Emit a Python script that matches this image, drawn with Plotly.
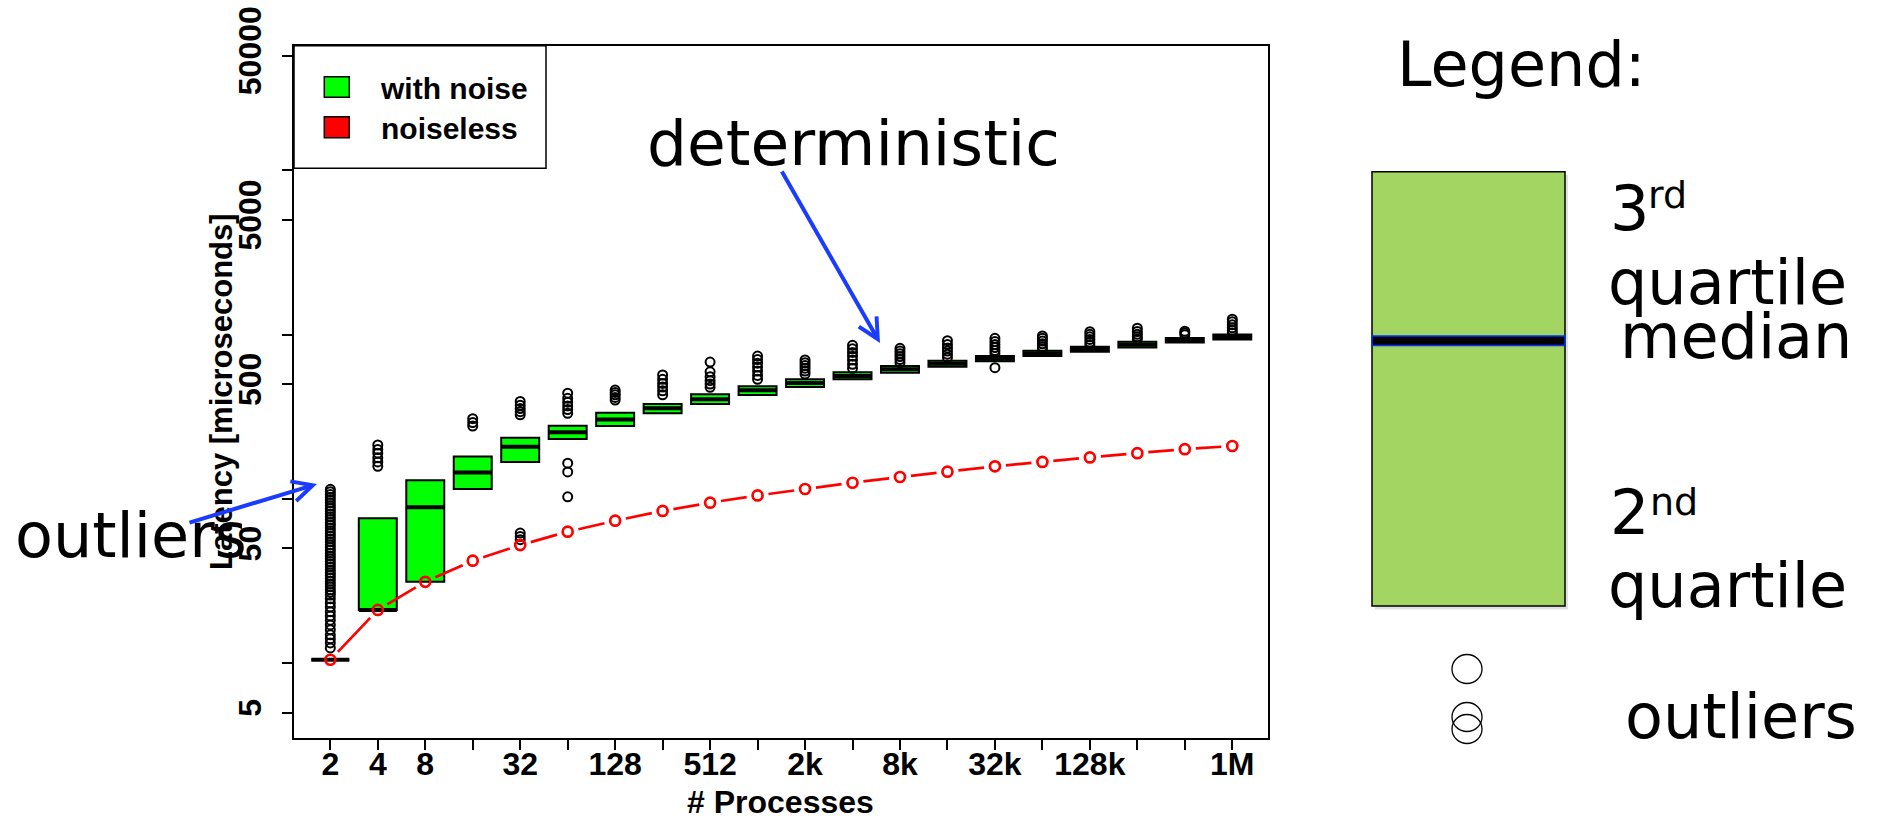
import numpy as np
import plotly.graph_objects as go

W, H = 1878, 821

# ---------------- data ----------------
procs = ["2", "4", "8", "16", "32", "64", "128", "256", "512", "1k",
         "2k", "4k", "8k", "16k", "32k", "64k", "128k", "256k", "512k", "1M"]
tick_labels = ["2", "4", "8", "", "32", "", "128", "", "512", "",
               "2k", "", "8k", "", "32k", "", "128k", "", "", "1M"]

q1 = [10.5, 21.1, 31.3, 115, 168, 232, 278, 332, 378, 429,
      480, 535, 587, 638, 688, 741, 787, 834, 896, 933]
median = [10.5, 21.1, 88.9, 145, 208, 255, 305, 356, 405, 458,
          508, 560, 615, 665, 714, 769, 818, 869, 924, 968]
q3 = [10.5, 76.2, 130, 181, 236, 279, 335, 378, 434, 486,
      535, 590, 644, 694, 741, 798, 845, 904, 953, 1003]

noiseless = [10.5, 21.1, 31.3, 42.1, 52.4, 63.2, 73.7, 84.5, 94.9, 105,
             115, 125.5, 136, 146.5, 158, 168, 179, 190, 201, 210]

outliers = [
    [12.4, 13.3, 14.1, 14.9, 16.0, 17.1, 18.3, 19.4, 20.6, 22.0, 23.3, 24.7,
     26, 27, 28, 29.2, 30.4, 31.6, 32.9, 34.2, 35.6, 37, 38.5, 40, 41.6, 43.3,
     45, 46.8, 48.7, 50.6, 52.7, 54.8, 57, 59.3, 61.6, 64, 66.6, 69.3, 72, 75,
     78, 81, 84.3, 87.6, 91, 94.7, 98.5, 102.4, 106.5, 110.7, 114.5],
    [158, 168, 178, 190, 200, 213],
    [],
    [278, 292, 308],
    [56.5, 59, 62, 325, 340, 355, 372, 392],
    [103, 146, 165, 332, 350, 368, 388, 410, 440],
    [400, 415, 430, 445, 460],
    [430, 455, 480, 505, 535, 568],
    [478, 500, 525, 555, 594, 681],
    [535, 565, 600, 635, 670, 705, 741],
    [576, 600, 625, 650, 675, 701],
    [624, 660, 700, 740, 780, 820, 861],
    [675, 705, 735, 765, 795, 826],
    [727, 760, 795, 830, 870, 919],
    [629, 769, 800, 835, 870, 910, 950],
    [815, 845, 880, 915, 950, 982],
    [865, 900, 935, 970, 1005, 1042],
    [938, 970, 1005, 1045, 1094],
    [1000, 1023, 1050],
    [1023, 1060, 1100, 1150, 1200, 1242],
]

pos = list(range(1, len(procs) + 1))

# ---------------- layout geometry ----------------
xd = [294 / W, 1267.7 / W]
yd = [1 - 738.3 / H, 1 - 45.7 / H]
xr = [0.235, 20.746]
yr = [0.5432, 4.7587]
sx = (xd[1] - xd[0]) * W / (xr[1] - xr[0])   # px per category
sy = (yd[1] - yd[0]) * H / (yr[1] - yr[0])   # px per decade


def px(x):
    return x / W


def py(y):
    return 1 - y / H


fig = go.Figure()

# boxes
fig.add_trace(go.Box(
    x=pos, q1=q1, median=median, q3=q3, lowerfence=q1, upperfence=q3,
    width=0.8, whiskerwidth=0, boxpoints=False,
    fillcolor="#00FF00", line=dict(color="black", width=2),
    showlegend=False, hoverinfo="skip"))

# thick medians
mx, my = [], []
for p, m in zip(pos, median):
    mx += [p - 0.4, p + 0.4, None]
    my += [m, m, None]
fig.add_trace(go.Scatter(x=mx, y=my, mode="lines",
                         line=dict(color="black", width=4),
                         showlegend=False, hoverinfo="skip"))

# outliers
ox, oy = [], []
for p, vals in zip(pos, outliers):
    ox += [p] * len(vals)
    oy += vals
fig.add_trace(go.Scatter(x=ox, y=oy, mode="markers",
                         marker=dict(symbol="circle-open", size=9,
                                     color="black", line=dict(width=2)),
                         showlegend=False, hoverinfo="skip"))

# noiseless line (R type="b": gaps around the points)
gap = 11.0
lx, ly = [], []
for i in range(len(noiseless) - 1):
    X0, Y0 = pos[i] * sx, np.log10(noiseless[i]) * sy
    X1, Y1 = pos[i + 1] * sx, np.log10(noiseless[i + 1]) * sy
    d = np.hypot(X1 - X0, Y1 - Y0)
    if d > 2 * gap:
        ux, uy = (X1 - X0) / d, (Y1 - Y0) / d
        lx += [(X0 + ux * gap) / sx, (X1 - ux * gap) / sx, None]
        ly += [10 ** ((Y0 + uy * gap) / sy), 10 ** ((Y1 - uy * gap) / sy), None]
fig.add_trace(go.Scatter(x=lx, y=ly, mode="lines",
                         line=dict(color="#FF0000", width=2.7),
                         showlegend=False, hoverinfo="skip"))
fig.add_trace(go.Scatter(x=pos, y=noiseless, mode="markers",
                         marker=dict(symbol="circle-open", size=10,
                                     color="#FF0000", line=dict(width=2.7)),
                         showlegend=False, hoverinfo="skip"))

axis_font = dict(family="Liberation Sans, Arial, sans-serif", size=32,
                 color="black", weight="bold")

fig.update_layout(
    template="none",
    width=W, height=H, autosize=False,
    margin=dict(l=0, r=0, t=0, b=0, pad=0),
    paper_bgcolor="white", plot_bgcolor="white",
    showlegend=False,
    xaxis=dict(domain=xd, range=xr, tickmode="array", tickvals=pos,
               ticktext=tick_labels, ticks="outside", ticklen=10, tickwidth=2,
               tickcolor="black", showline=True, linewidth=2, linecolor="black",
               mirror=True, showgrid=False, zeroline=False, tickfont=axis_font,
               automargin=False, ticklabelstandoff=-14),
    yaxis=dict(domain=yd, type="log", range=yr, tickmode="array",
               tickvals=[5, 10, 50, 100, 500, 1000, 5000, 10000, 50000],
               ticktext=["5", "", "50", "", "500", "", "5000", "", "50000"],
               tickangle=-90, ticks="outside", ticklen=10, tickwidth=2,
               tickcolor="black", showline=True, linewidth=2, linecolor="black",
               mirror=True, showgrid=False, zeroline=False, tickfont=axis_font,
               ticklabelstandoff=8, automargin=False),
)

shapes = []
# inner legend
shapes.append(dict(type="rect", xref="paper", yref="paper",
                   x0=px(294), x1=px(546), y0=py(168.3), y1=py(45.7),
                   line=dict(color="black", width=1.5)))
shapes.append(dict(type="rect", xref="paper", yref="paper",
                   x0=px(324.3), x1=px(349.3), y0=py(97.3), y1=py(76.7),
                   fillcolor="#00FF00", line=dict(color="black", width=1.5)))
shapes.append(dict(type="rect", xref="paper", yref="paper",
                   x0=px(324.3), x1=px(349.3), y0=py(137.7), y1=py(116.7),
                   fillcolor="#FF0000", line=dict(color="black", width=1.5)))
# right-hand explanatory legend
shapes.append(dict(type="rect", xref="paper", yref="paper",
                   x0=px(1375), x1=px(1568), y0=py(609.5), y1=py(175),
                   fillcolor="rgba(0,0,0,0.12)", line=dict(width=0)))
shapes.append(dict(type="rect", xref="paper", yref="paper",
                   x0=px(1372), x1=px(1565), y0=py(606), y1=py(171.7),
                   fillcolor="#A2D562", line=dict(color="black", width=1.5)))
shapes.append(dict(type="rect", xref="paper", yref="paper",
                   x0=px(1372), x1=px(1565), y0=py(345.5), y1=py(336),
                   fillcolor="black", line=dict(color="#0033FF", width=1.5)))
for cy in [669, 717, 729]:
    shapes.append(dict(type="circle", xref="paper", yref="paper",
                       x0=px(1452), x1=px(1482), y0=py(cy + 14.5), y1=py(cy - 14.5),
                       line=dict(color="black", width=1.3)))
fig.update_layout(shapes=shapes)

bold = dict(family="Liberation Sans, Arial, sans-serif", color="black", weight="bold")
big = dict(family="DejaVu Sans, Verdana, sans-serif", color="black", size=62)


def txt(text, x, y, font, xanchor="left", angle=0):
    fig.add_annotation(text=text, x=px(x), y=py(y), xref="paper", yref="paper",
                       xanchor=xanchor, yanchor="middle", showarrow=False,
                       font=font, textangle=angle)


txt("Latency [microseconds]", 221, 392, dict(bold, size=31), "center", -90)
txt("# Processes", 780, 802, dict(bold, size=32), "center")
txt("with noise", 378, 88, dict(bold, size=30))
txt("noiseless", 379, 128, dict(bold, size=30))

txt("deterministic", 645, 143.6, dict(big, size=63))
txt("outliers", 13, 535.6, big)
txt("Legend:", 1395, 65, big)
txt("3", 1608, 208.6, big)
txt("rd", 1646, 195.2, dict(big, size=38))
txt("quartile", 1606, 282.3, big)
txt("median", 1618, 336.2, big)
txt("2", 1608, 512.6, big)
txt("nd", 1648, 501.9, dict(big, size=38))
txt("quartile", 1606, 585.9, big)
txt("outliers", 1623, 716.8, big)

# blue arrows
for hx, hy, tx, ty in [(880, 343, 781, 170), (317, 484, 188, 523)]:
    fig.add_annotation(text="", x=px(hx), y=py(hy), xref="paper", yref="paper",
                       ax=tx - hx, ay=ty - hy, showarrow=True, arrowhead=5,
                       arrowsize=1, arrowwidth=4, arrowcolor="#1A3CFF", standoff=0)

fig.write_html("out.html", config={"displayModeBar": False},
               post_script="document.body.style.margin='0px';"
                           "document.body.style.overflow='hidden';")
